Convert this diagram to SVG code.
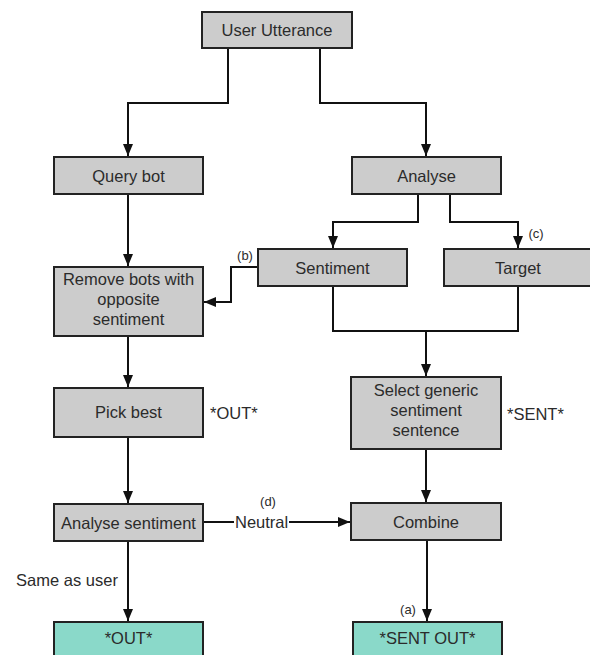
<svg xmlns="http://www.w3.org/2000/svg" width="590" height="655" viewBox="0 0 590 655">
<style>
.box{fill:#cccccc;stroke:#222222;stroke-width:2}
.out{fill:#8ad9c9;stroke:#222222;stroke-width:2}
.t{font-family:"Liberation Sans",Arial,sans-serif;font-size:16.5px;fill:#2b2b2b;text-anchor:middle}
.l{font-family:"Liberation Sans",Arial,sans-serif;font-size:16.5px;fill:#2b2b2b}
.s{font-family:"Liberation Sans",Arial,sans-serif;font-size:13px;fill:#2b2b2b;text-anchor:middle}
.c{fill:none;stroke:#111111;stroke-width:2}
</style>
<defs>
<marker id="ah" markerUnits="userSpaceOnUse" markerWidth="12" markerHeight="12" refX="12" refY="5" orient="auto">
<path d="M0,0 L12,5 L0,10 z" fill="#111111"/>
</marker>
</defs>
<rect width="590" height="655" fill="#ffffff"/>
<g id="connectors">
<path class="c" d="M228,48 V103 H128 V156" marker-end="url(#ah)"/>
<path class="c" d="M320,48 V103 H426 V156" marker-end="url(#ah)"/>
<path class="c" d="M128,194 V266" marker-end="url(#ah)"/>
<path class="c" d="M418,194 V222 H333 V248" marker-end="url(#ah)"/>
<path class="c" d="M450,194 V222 H518 V248" marker-end="url(#ah)"/>
<path class="c" d="M258,267 H231 V302 H204" marker-end="url(#ah)"/>
<path class="c" d="M333,286 V331 H518 V286"/>
<path class="c" d="M426,331 V376" marker-end="url(#ah)"/>
<path class="c" d="M128,336 V387" marker-end="url(#ah)"/>
<path class="c" d="M128,437 V503" marker-end="url(#ah)"/>
<path class="c" d="M203,522 H234"/>
<path class="c" d="M289,522 H350" marker-end="url(#ah)"/>
<path class="c" d="M128,541 V621" marker-end="url(#ah)"/>
<path class="c" d="M426,449 V502" marker-end="url(#ah)"/>
<path class="c" d="M427,540 V621" marker-end="url(#ah)"/>
<text class="s" x="245" y="260">(b)</text>
<text class="s" x="536" y="238">(c)</text>
<text class="s" x="268" y="506">(d)</text>
<text class="l" x="235" y="528">Neutral</text>
<text class="s" x="408" y="614">(a)</text>
<text class="t" x="67" y="586">Same as user</text>
</g>
<g id="user-utterance"><rect class="box" x="202" y="12" width="150" height="36"/><text class="t" x="277" y="36">User Utterance</text></g>
<g id="query-bot"><rect class="box" x="54" y="157" width="149" height="37"/><text class="t" x="128.5" y="181.5">Query bot</text></g>
<g id="analyse"><rect class="box" x="352" y="157" width="149" height="37"/><text class="t" x="426.5" y="181.5">Analyse</text></g>
<g id="sentiment"><rect class="box" x="258" y="249" width="149" height="37"/><text class="t" x="332.5" y="273.5">Sentiment</text></g>
<g id="target"><rect class="box" x="444" y="249" width="149" height="37"/><text class="t" x="518" y="273.5">Target</text></g>
<g id="remove-bots"><rect class="box" x="54" y="267" width="149" height="69"/><text class="t" x="128.5" y="285">Remove bots with</text><text class="t" x="128.5" y="305">opposite</text><text class="t" x="128.5" y="324.5">sentiment</text></g>
<g id="pick-best"><rect class="box" x="54" y="388" width="149" height="49"/><text class="t" x="128.5" y="417.5">Pick best</text><text class="l" x="210" y="419">*OUT*</text></g>
<g id="select-generic"><rect class="box" x="351" y="377" width="150" height="72"/><text class="t" x="426" y="395.5">Select generic</text><text class="t" x="426" y="415.5">sentiment</text><text class="t" x="426" y="436">sentence</text><text class="l" x="507" y="419.5">*SENT*</text></g>
<g id="analyse-sentiment"><rect class="box" x="54" y="504" width="149" height="37"/><text class="t" x="128.5" y="528.5">Analyse sentiment</text></g>
<g id="combine"><rect class="box" x="351" y="503" width="150" height="37"/><text class="t" x="426" y="527.5">Combine</text></g>
<g id="out"><rect class="out" x="54" y="622" width="149" height="40"/><text class="t" x="128.5" y="644">*OUT*</text></g>
<g id="sent-out"><rect class="out" x="353" y="622" width="149" height="40"/><text class="t" x="427.5" y="644">*SENT OUT*</text></g>
</svg>
